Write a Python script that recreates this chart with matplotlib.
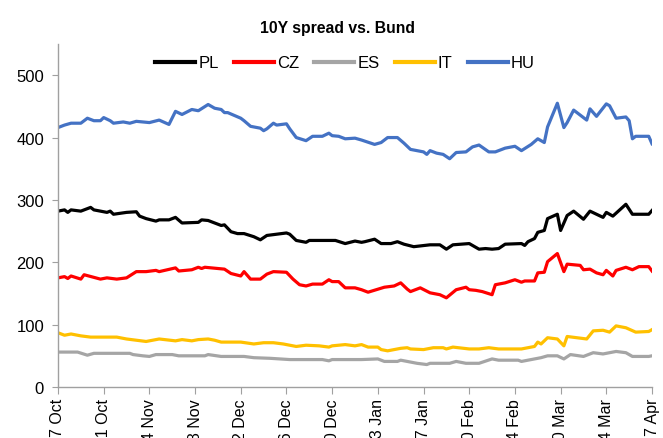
import matplotlib
matplotlib.use("Agg")
import matplotlib.pyplot as plt
import pandas as pd

# ---- data (bp) ----
hu_dates = ["2025-10-07","2025-10-09","2025-10-11","2025-10-14","2025-10-16","2025-10-18","2025-10-20","2025-10-21",
            "2025-10-23","2025-10-24","2025-10-27","2025-10-29","2025-10-31","2025-11-04","2025-11-07","2025-11-10",
            "2025-11-12","2025-11-14","2025-11-17","2025-11-19","2025-11-22","2025-11-24","2025-11-26","2025-11-27",
            "2025-11-28","2025-12-02","2025-12-03","2025-12-05","2025-12-08","2025-12-09","2025-12-10","2025-12-12",
            "2025-12-13","2025-12-16","2025-12-17","2025-12-19","2025-12-22","2025-12-24","2025-12-27","2025-12-29",
            "2025-12-30","2026-01-01","2026-01-03","2026-01-06","2026-01-08","2026-01-12","2026-01-14","2026-01-16",
            "2026-01-19","2026-01-21","2026-01-23","2026-01-27","2026-01-28","2026-01-29","2026-01-31","2026-02-02",
            "2026-02-04","2026-02-06","2026-02-09","2026-02-11","2026-02-13","2026-02-16","2026-02-18","2026-02-21",
            "2026-02-24","2026-02-26","2026-03-01","2026-03-03","2026-03-05","2026-03-06","2026-03-09","2026-03-11",
            "2026-03-12","2026-03-14","2026-03-18","2026-03-19","2026-03-21","2026-03-24","2026-03-25","2026-03-27",
            "2026-03-30","2026-03-31","2026-04-01","2026-04-02","2026-04-06","2026-04-07"]
hu_vals = [416,420,423,423,431,427,427,432,427,423,425,423,426,424,428,421,
           442,437,445,443,453,447,445,440,440,431,427,418,415,411,414,423,
           420,422,414,400,395,402,402,407,403,402,398,399,396,389,392,400,
           400,391,381,377,373,379,375,373,366,376,377,385,388,377,377,383,
           386,379,389,398,392,417,455,416,424,444,428,446,434,454,451,431,
           433,427,398,402,402,390]

pl_dates = ["2025-10-07","2025-10-09","2025-10-10","2025-10-11","2025-10-14","2025-10-17","2025-10-18","2025-10-20",
            "2025-10-22","2025-10-23","2025-10-24","2025-10-28","2025-10-31","2025-11-01","2025-11-03","2025-11-06",
            "2025-11-07","2025-11-10","2025-11-12","2025-11-14","2025-11-19","2025-11-20","2025-11-22","2025-11-26",
            "2025-11-27","2025-11-29","2025-12-01","2025-12-03","2025-12-06","2025-12-08","2025-12-10","2025-12-13",
            "2025-12-16","2025-12-17","2025-12-19","2025-12-22","2025-12-23","2025-12-31","2026-01-03","2026-01-06",
            "2026-01-08","2026-01-09","2026-01-12","2026-01-14","2026-01-17","2026-01-19","2026-01-21","2026-01-24",
            "2026-01-29","2026-02-01","2026-02-03","2026-02-05","2026-02-10","2026-02-13","2026-02-15","2026-02-17",
            "2026-02-19","2026-02-21","2026-02-26","2026-02-27","2026-02-28","2026-03-02","2026-03-03","2026-03-05",
            "2026-03-06","2026-03-09","2026-03-10","2026-03-12","2026-03-14","2026-03-17","2026-03-19","2026-03-23",
            "2026-03-24","2026-03-26","2026-03-30","2026-04-01","2026-04-06","2026-04-07"]
pl_vals = [282,284,280,284,282,288,284,282,280,282,277,280,281,274,270,266,
           268,268,272,263,264,268,267,259,260,249,246,246,241,236,243,245,
           247,245,235,232,235,235,230,234,232,233,237,230,230,233,229,225,
           228,228,221,228,230,221,222,221,222,229,230,227,233,238,248,251,
           270,277,251,275,282,269,282,272,280,274,293,277,277,283]

cz_dates = ["2025-10-07","2025-10-09","2025-10-10","2025-10-11","2025-10-14","2025-10-15","2025-10-20","2025-10-22",
            "2025-10-25","2025-10-28","2025-10-31","2025-11-03","2025-11-06","2025-11-07","2025-11-12","2025-11-13",
            "2025-11-17","2025-11-19","2025-11-20","2025-11-21","2025-11-27","2025-11-29","2025-12-02","2025-12-03",
            "2025-12-05","2025-12-08","2025-12-10","2025-12-12","2025-12-16","2025-12-18","2025-12-20","2025-12-22",
            "2025-12-24","2025-12-27","2025-12-29","2025-12-30","2026-01-01","2026-01-03","2026-01-06","2026-01-08",
            "2026-01-10","2026-01-15","2026-01-18","2026-01-20","2026-01-22","2026-01-23","2026-01-26","2026-01-29",
            "2026-02-01","2026-02-03","2026-02-06","2026-02-09","2026-02-10","2026-02-12","2026-02-14","2026-02-17",
            "2026-02-18","2026-02-21","2026-02-24","2026-02-26","2026-02-27","2026-03-02","2026-03-03","2026-03-05",
            "2026-03-06","2026-03-09","2026-03-11","2026-03-12","2026-03-16","2026-03-17","2026-03-19","2026-03-21",
            "2026-03-23","2026-03-24","2026-03-26","2026-03-27","2026-03-30","2026-04-01","2026-04-03","2026-04-06",
            "2026-04-07"]
cz_vals = [175,177,174,178,173,180,173,175,173,175,185,185,187,185,191,186,
           188,192,190,192,189,182,178,185,173,173,181,185,184,173,164,162,
           165,165,172,169,169,159,159,156,152,160,162,167,157,153,159,151,
           148,143,156,160,156,155,153,148,164,167,172,168,170,170,183,184,
           201,214,185,197,195,188,189,183,180,187,178,187,192,188,193,193,
           186]

it_dates = ["2025-10-07","2025-10-09","2025-10-11","2025-10-14","2025-10-17","2025-10-25","2025-10-28","2025-10-31",
            "2025-11-03","2025-11-07","2025-11-12","2025-11-14","2025-11-17","2025-11-19","2025-11-22","2025-11-24",
            "2025-11-26","2025-12-02","2025-12-06","2025-12-09","2025-12-12","2025-12-15","2025-12-19","2025-12-22",
            "2025-12-26","2025-12-29","2025-12-30","2026-01-03","2026-01-06","2026-01-08","2026-01-10","2026-01-13",
            "2026-01-14","2026-01-16","2026-01-20","2026-01-22","2026-01-23","2026-01-27","2026-01-30","2026-02-02",
            "2026-02-03","2026-02-05","2026-02-10","2026-02-13","2026-02-16","2026-02-19","2026-02-26","2026-03-02",
            "2026-03-03","2026-03-04","2026-03-06","2026-03-09","2026-03-11","2026-03-12","2026-03-18","2026-03-20",
            "2026-03-23","2026-03-25","2026-03-27","2026-03-30","2026-04-02","2026-04-06","2026-04-07"]
it_vals = [87,83,85,82,80,80,77,75,73,77,74,76,74,76,77,75,
           72,72,69,71,71,69,65,67,66,64,66,68,66,68,64,64,
           60,58,62,63,61,60,63,63,61,64,61,61,63,61,61,65,
           72,69,79,77,66,81,77,90,91,88,98,95,88,89,92]

es_dates = ["2025-10-07","2025-10-13","2025-10-16","2025-10-18","2025-10-29","2025-10-30","2025-11-02","2025-11-04",
            "2025-11-06","2025-11-11","2025-11-13","2025-11-21","2025-11-22","2025-11-26","2025-12-03","2025-12-06",
            "2025-12-11","2025-12-17","2025-12-27","2025-12-29","2025-12-30","2026-01-08","2026-01-13","2026-01-15",
            "2026-01-19","2026-01-20","2026-01-25","2026-01-28","2026-01-29","2026-02-04","2026-02-06","2026-02-09",
            "2026-02-13","2026-02-17","2026-02-19","2026-02-25","2026-02-26","2026-03-02","2026-03-04","2026-03-06",
            "2026-03-09","2026-03-11","2026-03-13","2026-03-17","2026-03-20","2026-03-23","2026-03-27","2026-03-30",
            "2026-04-01","2026-04-06","2026-04-07"]
es_vals = [56,56,51,54,54,52,50,49,52,52,50,50,52,49,49,47,
           46,44,44,42,44,44,45,41,41,43,38,36,38,38,41,38,
           38,45,43,43,41,45,47,50,50,45,52,49,55,53,57,55,
           49,49,50]

series = [("PL", pl_dates, pl_vals, "#000000"),
          ("CZ", cz_dates, cz_vals, "#FF0000"),
          ("ES", es_dates, es_vals, "#A5A5A5"),
          ("IT", it_dates, it_vals, "#FFC000"),
          ("HU", hu_dates, hu_vals, "#4472C4")]

title = "10Y spread vs. Bund"
x_start, x_end = "2025-10-07", "2026-04-07"
y_ticks = [0, 100, 200, 300, 400, 500]

plt.rcParams["font.family"] = ["Liberation Sans", "DejaVu Sans"]

fig = plt.figure(figsize=(6.63, 4.39), dpi=100)
ax = fig.add_axes([58/663, 1-388/439, (652-58)/663, (388-45)/439])

for name, d, v, c in series:
    ax.plot(pd.to_datetime(d), v, color=c, lw=2.3, label=name, solid_joinstyle="round")

ax.set_xlim(pd.Timestamp(x_start), pd.Timestamp(x_end))
ax.set_ylim(0, 550)
ax.set_yticks(y_ticks)
ticks = pd.date_range(x_start, x_end, freq="14D")
ax.set_xticks(ticks)
ax.set_xticklabels([f"{t.day} {t.strftime('%b')}" for t in ticks], rotation=90, va="top", ha="center")

for s in ["top", "right"]:
    ax.spines[s].set_visible(False)
for s in ["left", "bottom"]:
    ax.spines[s].set_color("#A0A0A0")
    ax.spines[s].set_linewidth(1.0)
ax.tick_params(axis="both", colors="#A0A0A0", labelcolor="black", direction="out")
ax.tick_params(axis="x", length=5, pad=3, labelsize=11.5)
ax.tick_params(axis="y", length=4, pad=6, labelsize=12)

fig.text(338/663, 1-28/439, title, ha="center", va="center", fontsize=11.3, fontweight="bold")
leg = fig.legend(loc="center", bbox_to_anchor=(345/663, 1-64/439), ncol=5, frameon=False,
                 prop={"size": 12}, handlelength=2.4, handletextpad=0.2, columnspacing=0.9)
for h in leg.get_lines():
    h.set_linewidth(3)

fig.savefig("out.png", dpi=100)
